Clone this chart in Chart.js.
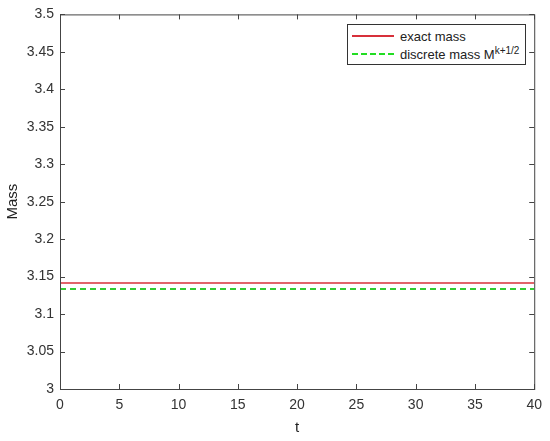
<!DOCTYPE html>
<html>
<head>
<meta charset="utf-8">
<script src="https://cdn.jsdelivr.net/npm/chart.js@4"></script>
<style>
html, body { margin:0; padding:0; background:#fff; }
#wrap { position:relative; width:550px; height:441px; }
#legenda {
    position:absolute; left:347px; top:24px; width:179px; height:41px;
    border:1px solid #333; background:#fff; box-sizing:border-box;
    font-family:"Liberation Sans", Arial, sans-serif; font-size:13px; color:#222;
}
.item { position:absolute; left:4px; height:16px; display:flex; align-items:center; }
.amostra { width:42px; height:0; margin-right:6px; }
sup { font-size:10px; position:relative; top:-2px; vertical-align:top; }
</style>
</head>
<body>
<div id="wrap">
    <canvas id="grafico" width="550" height="441"></canvas>
    <div id="legenda">
        <div class="item" style="top:3px;">
            <div class="amostra" style="border-top:2px solid #d7303a;"></div>
            <span>exact mass</span>
        </div>
        <div class="item" style="top:21px;">
            <div class="amostra" style="border-top:2px dashed #22dd22;"></div>
            <span>discrete mass M<sup>k+1/2</sup></span>
        </div>
    </div>
</div>
<script>
// ==========================
// DADOS
// ==========================
const tempos = [0, 40];

const massaExata = [3.1416, 3.1416];

const massaDiscreta = [3.1336, 3.1336];

const ticksX = [0, 5, 10, 15, 20, 25, 30, 35, 40];

const ticksY = [3, 3.05, 3.1, 3.15, 3.2, 3.25, 3.3, 3.35, 3.4, 3.45, 3.5];

const fonte = "'Liberation Sans', Arial, sans-serif";

// ==========================
// TICKS PARA DENTRO (estilo MATLAB)
// ==========================
const ticksDentro = {
    id: "ticksDentro",
    afterDraw(chart){
        const ctx = chart.ctx;
        const a = chart.chartArea;
        const sx = chart.scales.x;
        const sy = chart.scales.y;
        const len = 5;
        ctx.save();
        ctx.strokeStyle = "#444";
        ctx.lineWidth = 1;
        ctx.beginPath();
        ticksX.forEach(v => {
            const px = Math.round(sx.getPixelForValue(v)) + 0.5;
            ctx.moveTo(px, a.bottom); ctx.lineTo(px, a.bottom - len);
            ctx.moveTo(px, a.top); ctx.lineTo(px, a.top + len);
        });
        ticksY.forEach(v => {
            const py = Math.round(sy.getPixelForValue(v)) + 0.5;
            ctx.moveTo(a.left, py); ctx.lineTo(a.left + len, py);
            ctx.moveTo(a.right, py); ctx.lineTo(a.right - len, py);
        });
        ctx.stroke();
        ctx.strokeRect(a.left + 0.5, a.top + 0.5, a.right - a.left, a.bottom - a.top);
        ctx.restore();
    }
};

// ==========================
// GRAFICO
// ==========================
const ctx = document.getElementById("grafico").getContext("2d");

new Chart(ctx, {
    type: "line",
    data: {
        datasets: [
            {
                label: "exact mass",
                data: tempos.map((t, i) => ({ x: t, y: massaExata[i] })),
                borderColor: "#d7303a",
                borderWidth: 1.5,
                pointRadius: 0
            },
            {
                label: "discrete mass M^{k+1/2}",
                data: tempos.map((t, i) => ({ x: t, y: massaDiscreta[i] })),
                borderColor: "#33cc33",
                borderWidth: 2,
                borderDash: [6, 4],
                pointRadius: 0
            }
        ]
    },
    options: {
        responsive: false,
        animation: false,
        layout: { padding: { top: 12, right: 12, left: 0, bottom: 0 } },
        plugins: {
            legend: { display: false },
            tooltip: { enabled: false }
        },
        scales: {
            x: {
                type: "linear",
                min: 0, max: 40,
                afterBuildTicks: s => { s.ticks = ticksX.map(v => ({ value: v })); },
                afterFit: s => { s.height = 52; },
                grid: { display: false, drawTicks: false },
                border: { display: false },
                ticks: {
                    color: "#333", padding: 8,
                    font: { family: fonte, size: 14 }
                },
                title: {
                    display: true, text: "t", color: "#222", padding: { top: 2 },
                    font: { family: fonte, size: 15 }
                }
            },
            y: {
                type: "linear",
                min: 3, max: 3.5,
                afterBuildTicks: s => { s.ticks = ticksY.map(v => ({ value: v })); },
                afterFit: s => { s.width = 60; },
                grid: { display: false, drawTicks: false },
                border: { display: false },
                ticks: {
                    color: "#333", padding: 6,
                    font: { family: fonte, size: 14 },
                    callback: v => String(v)
                },
                title: {
                    display: true, text: "Mass", color: "#222", padding: { bottom: 0 },
                    font: { family: fonte, size: 15 }
                }
            }
        }
    },
    plugins: [ticksDentro]
});
</script>
</body>
</html>
